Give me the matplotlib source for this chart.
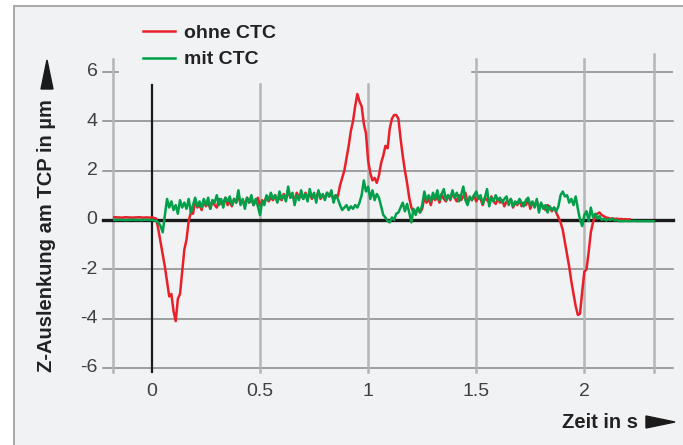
import numpy as np
import matplotlib.pyplot as plt
from matplotlib.patches import Rectangle, Polygon

plt.rcParams['font.family'] = ['Liberation Sans', 'DejaVu Sans']

# Z-Auslenkung am TCP, abgetastet alle 10 ms ab t = -0.18 s
t0 = -0.18
dt = 0.01

ohne_ctc = [
    0.10, 0.11, 0.10, 0.10, 0.09, 0.10, 0.11, 0.10, 0.10, 0.09, 0.10, 0.10, 0.11, 0.10, 0.09, 0.10,
    0.10, 0.09, 0.10, 0.08, 0.05,
    -0.4, -0.9, -1.4, -1.9, -2.5, -3.1, -3.0, -3.7, -4.1, -3.2, -3.0, -2.1, -1.2, -0.8, -0.05,
    0.3, 0.25, 0.8, 0.5, 0.6, 0.4, 0.75, 0.55, 0.7, 0.45, 0.8, 0.6, 0.5, 0.85, 0.65, 0.7, 0.9,
    0.6, 0.75, 0.55, 0.85, 0.7, 1.0, 0.65, 0.8, 0.6, 0.9, 0.7, 0.85, 0.6, 0.75, 0.9, 0.55, 0.8,
    0.7, 0.95, 0.75, 0.9, 0.8, 1.0, 0.75, 0.9, 0.8, 1.05, 0.85, 1.2, 0.9, 1.0, 0.8, 1.1, 0.9,
    1.0, 0.85, 1.1, 0.9, 1.05, 0.85, 1.0, 0.9, 1.15, 0.85, 1.0, 0.9, 1.1, 0.95, 1.05, 0.85, 1.0,
    0.95,
    1.4, 1.7, 2.0, 2.5, 3.0, 3.6, 4.0, 4.6, 5.1, 4.8, 4.6, 3.9, 3.5, 2.4, 1.9, 1.6, 1.7, 1.5,
    1.8, 2.3, 2.6, 3.0, 2.9, 3.7, 4.1, 4.25, 4.25, 4.1, 3.3, 2.6, 2.0, 1.5, 0.9, 0.5, 0.3, 0.35,
    0.45, 0.3, 0.45,
    0.9, 0.7, 0.85, 0.6, 1.0, 0.8, 0.95, 0.7, 1.05, 0.85, 0.75, 1.0, 0.8, 1.1, 0.9, 0.75, 1.0,
    0.8, 0.95, 1.1, 0.7, 0.9, 0.8, 1.0, 0.75, 0.95, 0.85, 0.6, 0.9, 0.8, 0.7, 0.95, 0.75, 0.65,
    0.85, 0.7, 0.8, 0.55, 0.75, 0.7, 0.85, 0.5, 0.7, 0.6, 0.8, 0.55, 0.7, 0.6, 0.85, 0.45, 0.7,
    0.6, 0.75, 0.5, 0.65, 0.55, 0.4, 0.6, 0.5, 0.35, 0.5, 0.3, 0.1,
    -0.1, -0.4, -0.9, -1.4, -1.9, -2.5, -3.0, -3.5, -3.85, -3.8, -2.9, -2.1, -2.0, -1.3, -0.5,
    -0.1, 0.15, 0.25, 0.3, 0.2, 0.15, 0.1, 0.08, 0.05, 0.06, 0.04, 0.05, 0.03, 0.04, 0.02, 0.03,
    0.02, 0.02,
]

mit_ctc = [
    0.01, 0.0, 0.0, 0.01, 0.0, 0.0, -0.01, 0.0, 0.0, 0.01, 0.0, 0.0, 0.0, -0.01, 0.0, 0.01,
    0.0, 0.0, 0.0, -0.02, -0.05,
    -0.1, -0.25, -0.5, 0.2, 0.85, 0.5, 0.75, 0.4, 0.6, 0.25, 0.8, 0.5, 0.7, 0.45, 0.85, 0.3,
    0.6, 0.9, 0.55, 0.75, 0.5, 0.85, 0.6, 0.9, 0.45, 0.8, 0.7, 1.0, 0.6, 0.85, 0.5, 0.9, 0.75,
    0.95, 0.6, 0.85, 0.7, 1.2, 0.6, 0.85, 0.45, 0.9, 0.7, 1.0, 0.6, 0.85, 0.55, 0.2, 0.75, 0.6,
    1.0, 0.8, 1.1, 0.85, 1.0, 0.7, 1.15, 0.85, 1.0, 0.75, 1.35, 0.9, 1.1, 0.6, 1.0, 0.8, 1.2,
    0.85, 1.05, 0.75, 1.25, 0.9, 1.1, 0.7, 1.2, 0.9, 1.05, 0.8, 1.1, 0.95, 1.2, 0.7, 1.0, 0.85,
    0.6, 0.4, 0.5, 0.6, 0.4, 0.55, 0.45, 0.6, 0.5, 0.7, 1.0, 1.6, 1.15, 1.35, 0.85, 1.2, 0.8,
    1.05, 0.9, 0.55, 0.2, 0.1, -0.05, -0.1, 0.1, 0.0, 0.25, 0.3, 0.5, 0.7, 0.35, 0.65, 0.3,
    -0.1, 0.45, 0.2, 0.5, 0.3, 0.6,
    1.15, 0.8, 1.0, 0.75, 1.1, 0.85, 1.2, 0.8, 1.05, 1.25, 0.8, 1.0, 0.85, 1.2, 0.9, 1.1, 0.75,
    1.0, 1.35, 0.8, 0.6, 0.95, 0.8, 1.0, 1.15, 0.85, 1.0, 0.65, 0.9, 1.25, 0.55, 0.9, 0.75, 1.0,
    0.8, 0.9, 0.7, 0.85, 0.95, 0.6, 0.85, 0.55, 0.75, 0.65, 0.85, 0.7, 0.55, 0.8, 0.9, 0.6,
    0.75, 0.5, 0.85, 0.3, 0.7, 0.45, 0.6, 0.3, 0.55, 0.4, 0.5, 0.35, 0.55,
    1.0, 1.15, 0.95, 1.0, 0.7, 0.85, 0.6, 0.95, 0.45, 0.0, -0.25, 0.2, 0.35, -0.05, 0.5, 0.1,
    0.25, 0.05, 0.15, 0.0, 0.05, -0.02, 0.03, 0.0, 0.05, -0.02, 0.0, -0.05,
    -0.05, -0.05, -0.04, -0.05, -0.05, -0.05, -0.04, -0.05, -0.05, -0.05, -0.05, -0.05, -0.05,
    -0.05, -0.05, -0.05,
]

x_ticks = [0, 0.5, 1, 1.5, 2]
x_labels = ['0', '0.5', '1', '1.5', '2']
y_ticks = [-6, -4, -2, 0, 2, 4, 6]

t_ohne = t0 + dt * np.arange(len(ohne_ctc))
t_mit = t0 + dt * np.arange(len(mit_ctc))

W, H = 683, 445
fig = plt.figure(figsize=(W / 100, H / 100), dpi=100)
# grey panel with frame on top/left
fig.patches.append(Rectangle((14 / W, -0.01), 1.0, (H - 6) / H + 0.01,
                             transform=fig.transFigure, facecolor='#f1f2f4',
                             edgecolor='#a9a9a9', linewidth=1.4, zorder=-10))

ax = fig.add_axes([113 / W, (H - 368) / H, 560 / W, (368 - 53.3) / H])
ax.set_xlim(-0.18, 2.41)
ax.set_ylim(-6, 6.75)
ax.patch.set_visible(False)
for s in ax.spines.values():
    s.set_visible(False)
ax.set_xticks([])
ax.set_yticks([])

grid_h = '#878787'
grid_v = '#b5b5b5'
tick_color = '#404040'
x_left = -0.18
tick_dx = 10 / 216   # 10 px tick length on the left
tick_dy = 4 / 24.7   # tick below the -6 line

# horizontal grid
for y in y_ticks:
    if y == 0:
        continue
    if y == 6:
        ax.plot([1.48, 2.41], [6, 6], color=grid_h, lw=1.1, zorder=1)
        ax.plot([x_left - tick_dx, x_left + 0.025], [6, 6], color=grid_h, lw=1.1,
                zorder=1, clip_on=False)
    else:
        ax.plot([x_left - tick_dx, 2.41], [y, y], color=grid_h, lw=1.1, zorder=1,
                clip_on=False)
for y in y_ticks:
    ax.text(x_left - 0.072, y, str(y), ha='right', va='center', fontsize=14,
            color=tick_color)

# vertical grid, different heights
v_tops = {0.5: 5.5, 1: 5.5, 1.5: 6.52, 2: 6.52, 2.32: 6.72, x_left: 6.52}
for x, top in v_tops.items():
    ax.plot([x, x], [-6 - tick_dy, top], color=grid_v, lw=1.8, zorder=1, clip_on=False)
ax.plot([0, 0], [-6 - tick_dy, 5.47], color='#1a1a1a', lw=1.6, zorder=2, clip_on=False)
ax.plot([x_left - tick_dx, 2.41], [0, 0], color='#1a1a1a', lw=2.4, zorder=2, clip_on=False)

for x, lab in zip(x_ticks, x_labels):
    ax.text(x, -6.6, lab, ha='center', va='top', fontsize=14, color=tick_color)

ax.plot(t_ohne, ohne_ctc, color='#e8202a', lw=1.8, zorder=3, label='ohne CTC')
ax.plot(t_mit, mit_ctc, color='#00a04a', lw=1.8, zorder=4, label='mit CTC')

leg = ax.legend(loc='upper left', bbox_to_anchor=(125 / W, (H - 7) / H),
                bbox_transform=fig.transFigure, frameon=False,
                handlelength=1.65, handletextpad=0.46, labelspacing=0.45,
                prop={'weight': 'bold', 'size': 14})
for txt in leg.get_texts():
    txt.set_color('#222222')

# axis titles with pointer arrows
fig.text(638 / W, (H - 422) / H, 'Zeit in s', ha='right', va='center',
         fontsize=14.5, fontweight='bold', color='#222222')
fig.text(47 / W, (H - 372) / H, 'Z-Auslenkung am TCP in µm', rotation=90,
         ha='center', va='bottom', fontsize=14.5, fontweight='bold', color='#222222')
fig.patches.append(Polygon([(646 / W, (H - 416) / H), (646 / W, (H - 428) / H),
                            (675 / W, (H - 422) / H)], closed=True,
                           transform=fig.transFigure, color='#1a1a1a'))
fig.patches.append(Polygon([(41 / W, (H - 89) / H), (53 / W, (H - 89) / H),
                            (47 / W, (H - 60) / H)], closed=True,
                           transform=fig.transFigure, color='#1a1a1a'))

fig.savefig('out.png', dpi=100)
